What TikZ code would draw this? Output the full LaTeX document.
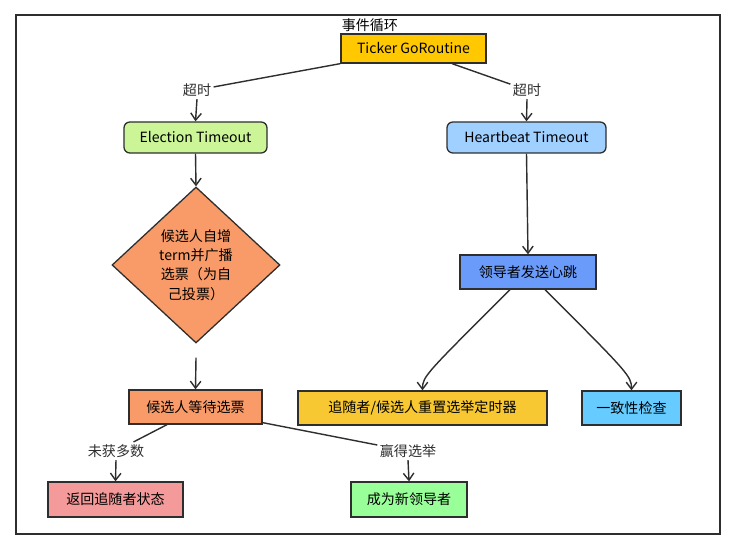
\documentclass[tikz,border=0pt]{standalone}
\usepackage{fontspec}
\setmainfont{Noto Sans CJK SC}
\usepackage{tikz}
\usetikzlibrary{arrows.meta,shapes.geometric}
\usepackage{xcolor}
\definecolor{inkgray}{HTML}{2E2E2E}
\definecolor{tickergold}{HTML}{FFC800}
\definecolor{electgreen}{HTML}{CBF597}
\definecolor{heartblue}{HTML}{A0D0FF}
\definecolor{candorange}{HTML}{F89B68}
\definecolor{leaderblue}{HTML}{6A9BFA}
\definecolor{resetyellow}{HTML}{F8C832}
\definecolor{checkcyan}{HTML}{66CCFF}
\definecolor{backpink}{HTML}{F59A9A}
\definecolor{winmint}{HTML}{99FF99}

\begin{document}
\begin{tikzpicture}[
  x=0.03cm, y=0.03cm,
  font=\fontsize{12}{16.5}\selectfont,
  >={Straight Barb[length=6pt,width=9pt]},
  flowbox/.style={
    draw=inkgray,
    line width=1.1pt,
    inner sep=0pt,
    align=center,
    minimum height=1.02cm
  },
  timerbox/.style={
    flowbox,
    rounded corners=5pt,
    minimum height=0.93cm
  },
  flowarrow/.style={
    ->,
    line width=1.2pt,
    draw=inkgray
  },
  flowline/.style={
    line width=1.2pt,
    draw=inkgray
  },
  edgelabel/.style={
    inner sep=2pt,
    text=inkgray
  }
]

  \useasboundingbox (0,0) rectangle (736,543);
  \draw[line width=1.1pt, draw=inkgray] (16,9) rectangle (720,528);

  % -------------------------------------------------------------
  % EVENT LOOP
  % -------------------------------------------------------------
  \node[flowbox, fill=tickergold, minimum width=4.35cm, minimum height=0.87cm] (ticker) at (413.5,494.5) {Ticker GoRoutine};
  \node[anchor=south west, inner sep=1pt] (evloop) at (ticker.north west) {事件循环};

  % timeout labels
  \node[edgelabel] (lto) at (197,453) {超时};
  \node[edgelabel] (rto) at (527,453) {超时};

  % -------------------------------------------------------------
  % TIMERS
  % -------------------------------------------------------------
  \node[timerbox, fill=electgreen, minimum width=4.29cm] (elect) at (195.5,405.5) {Election Timeout};
  \node[timerbox, fill=heartblue, minimum width=4.77cm] (heart) at (526.5,405.5) {Heartbeat Timeout};

  % -------------------------------------------------------------
  % ELECTION BRANCH (LEFT)
  % -------------------------------------------------------------
  \node[diamond, draw=inkgray, line width=1.1pt, fill=candorange, inner sep=0pt,
        minimum width=5.04cm, minimum height=4.68cm, align=center] (diam) at (196,278) {
    候选人自增\\term并广播\\选票（为自\\己投票）
  };

  \node[flowbox, fill=candorange, minimum width=3.99cm] (wait) at (195.5,136) {候选人等待选票};

  \node[edgelabel] (lose) at (116,92) {未获多数};
  \node[edgelabel] (win) at (408,92) {赢得选举};

  \node[flowbox, fill=backpink, minimum width=4.05cm, minimum height=1.05cm] (back) at (115.5,43.5) {返回追随者状态};
  \node[flowbox, fill=winmint, minimum width=3.48cm, minimum height=1.05cm] (newl) at (409,43.5) {成为新领导者};

  % -------------------------------------------------------------
  % HEARTBEAT BRANCH (RIGHT)
  % -------------------------------------------------------------
  \node[flowbox, fill=leaderblue, minimum width=4.08cm] (leader) at (528,271) {领导者发送心跳};

  \node[flowbox, fill=resetyellow, minimum width=7.47cm] (reset) at (422.5,135) {追随者/候选人重置选举定时器};
  \node[flowbox, fill=checkcyan, minimum width=2.97cm] (check) at (631.5,135) {一致性检查};

  % -------------------------------------------------------------
  % CONNECTORS
  % -------------------------------------------------------------
  \draw[flowline] (ticker.south west) -- (lto);
  \draw[flowarrow] (lto.south) -- (elect.north);
  \draw[flowline] ([xshift=1.155cm]ticker.south) -- (rto);
  \draw[flowarrow] (rto.south) -- (heart.north);

  \draw[flowarrow] (elect.south) -- (diam.north);
  \draw[flowarrow] ([yshift=-0.42cm]diam.south) -- (wait.north);

  \draw[flowline] ([xshift=-0.855cm]wait.south) -- (lose);
  \draw[flowarrow] (lose.south) -- (back.north);
  \draw[flowline] ([yshift=0.06cm]wait.south east) -- (win);
  \draw[flowarrow] (win.south) -- (newl.north);

  \draw[flowarrow] (heart.south) -- (leader.north);
  \draw[flowarrow] ([xshift=-0.54cm]leader.south) .. controls +(-84,-84) and +(0,14) .. (reset.north);
  \draw[flowarrow] ([xshift=0.51cm]leader.south) .. controls +(84,-84) and +(0,14) .. (check.north);

\end{tikzpicture}
\end{document}
